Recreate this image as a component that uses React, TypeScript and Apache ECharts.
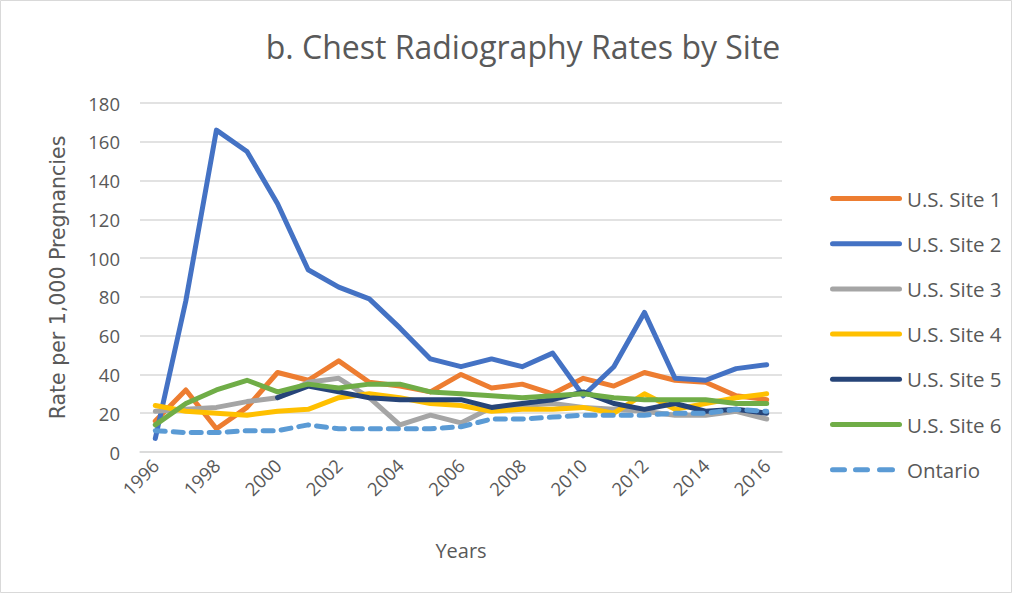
import React, { useEffect, useRef } from "react";
import * as echarts from "echarts";

const years = ["1996","1997","1998","1999","2000","2001","2002","2003","2004","2005","2006","2007","2008","2009","2010","2011","2012","2013","2014","2015","2016"];
const site1 = [16, 32, 12, 23, 41, 37, 47, 36, 34, 31, 40, 33, 35, 30, 38, 34, 41, 37, 36, 29, 27];
const site2 = [7, 78, 166, 155, 128, 94, 85, 79, 64, 48, 44, 48, 44, 51, 29, 44, 72, 38, 37, 43, 45];
const site3 = [21, 22, 23, 26, 28, 36, 38, 28, 14, 19, 15, 23, 24, 25, 23, 22, 21, 19, 19, 21, 17];
const site4 = [24, 21, 20, 19, 21, 22, 28, 30, 28, 25, 24, 21, 22, 22, 23, 20, 30, 22, 25, 28, 30];
const site5 = [null, null, null, null, 28, 34, 31, 28, 27, 27, 27, 23, 25, 27, 31, 25, 22, 25, 21, 22, 20];
const site6 = [14, 25, 32, 37, 31, 35, 33, 35, 35, 31, 30, 29, 28, 29, 30, 28, 27, 27, 27, 25, 25];
const ontario = [11, 10, 10, 11, 11, 14, 12, 12, 12, 12, 13, 17, 17, 18, 19, 19, 19, 20, 20, 22, 21];

const seriesDefs = [
  { name: "U.S. Site 1", data: site1, color: "#ED7D31", dashed: false },
  { name: "U.S. Site 2", data: site2, color: "#4472C4", dashed: false },
  { name: "U.S. Site 3", data: site3, color: "#A5A5A5", dashed: false },
  { name: "U.S. Site 4", data: site4, color: "#FFC000", dashed: false },
  { name: "U.S. Site 5", data: site5, color: "#264478", dashed: false },
  { name: "U.S. Site 6", data: site6, color: "#70AD47", dashed: false },
  { name: "Ontario", data: ontario, color: "#5B9BD5", dashed: true },
];

const solidIcon = "path://M2.5,0 H69.5 A2.5,2.5 0 0 1 69.5,5 H2.5 A2.5,2.5 0 0 1 2.5,0 Z";
const dashIcon =
  "path://M2.5,0 H14.5 A2.5,2.5 0 0 1 14.5,5 H2.5 A2.5,2.5 0 0 1 2.5,0 Z " +
  "M25.5,0 H37.5 A2.5,2.5 0 0 1 37.5,5 H25.5 A2.5,2.5 0 0 1 25.5,0 Z " +
  "M49.5,0 H62.5 A2.5,2.5 0 0 1 62.5,5 H49.5 A2.5,2.5 0 0 1 49.5,0 Z " +
  "M71.9,2.5 H72 V2.6 H71.9 Z";

export default function App() {
  const ref = useRef<HTMLDivElement>(null);
  useEffect(() => {
    if (!ref.current) return;
    const chart = echarts.init(ref.current, null, { renderer: "svg" });
    const font = "Open Sans";
    chart.setOption({
      animation: false,
      backgroundColor: "#ffffff",
      title: {
        text: "b. Chest Radiography Rates by Site",
        left: 518,
        textAlign: "center",
        top: 25,
        textStyle: { fontFamily: font, fontSize: 32, fontWeight: "normal", color: "#595959" },
      },
      graphic: [
        {
          type: "rect",
          shape: { x: 0.5, y: 0.5, width: 1011, height: 592 },
          style: { fill: "none", stroke: "#d9d9d9", lineWidth: 1 },
          silent: true,
        },
      ],
      legend: {
        orient: "vertical",
        left: 825,
        top: 183,
        itemGap: 24.2,
        itemWidth: 72,
        itemHeight: 5,
        textStyle: { fontFamily: font, fontSize: 20.5, color: "#595959" },
        data: seriesDefs.map((s) => ({ name: s.name, icon: s.dashed ? dashIcon : solidIcon })),
      },
      grid: { left: 140, right: 231, top: 103, bottom: 142 },
      xAxis: {
        type: "category",
        data: years,
        boundaryGap: true,
        name: "Years",
        nameLocation: "middle",
        nameGap: 88,
        nameTextStyle: { fontFamily: font, fontSize: 20, color: "#595959" },
        axisLine: { show: true, lineStyle: { color: "#d9d9d9", width: 1.5 } },
        axisTick: { show: false },
        axisLabel: {
          interval: 1,
          rotate: 45,
          fontFamily: font,
          fontSize: 18.5,
          color: "#595959",
          margin: 10,
        },
      },
      yAxis: {
        type: "value",
        min: 0,
        max: 180,
        interval: 20,
        name: "Rate per 1,000 Pregnancies",
        nameLocation: "middle",
        nameGap: 72,
        nameTextStyle: { fontFamily: "DejaVu Sans", fontSize: 20.5, color: "#595959" },
        axisLine: { show: false },
        axisTick: { show: false },
        splitLine: { lineStyle: { color: "#d9d9d9", width: 1.5 } },
        axisLabel: { fontFamily: font, fontSize: 18.5, color: "#595959", margin: 20 },
      },
      series: seriesDefs.map((s) => ({
        name: s.name,
        type: "line",
        data: s.data,
        symbol: "none",
        connectNulls: false,
        color: s.color,
        lineStyle: {
          color: s.color,
          width: 5,
          type: s.dashed ? [10, 8] : "solid",
          cap: "round",
          join: "round",
        },
        itemStyle: { color: s.color },
      })),
    });
    return () => chart.dispose();
  }, []);
  return <div ref={ref} style={{ width: 1013, height: 594, position: "absolute", left: 0, top: 0 }} />;
}
